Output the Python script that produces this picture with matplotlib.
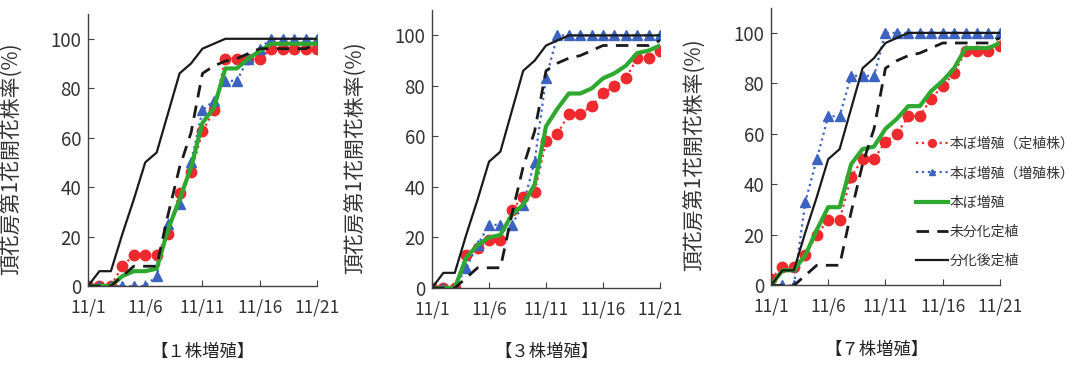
import matplotlib
matplotlib.use('Agg')
from matplotlib import pyplot as plt

plt.rcParams['font.family'] = ['Noto Sans CJK JP', 'DejaVu Sans']

days = list(range(21))
xtick_days = [0, 5, 10, 15, 20]
xtick_labels = ['11/1', '11/6', '11/11', '11/16', '11/21']
yticks = [0, 20, 40, 60, 80, 100]

panel_titles = ['【１株増殖】', '【３株増殖】', '【７株増殖】']
series_names = ['本ぼ増殖（定植株）', '本ぼ増殖（増殖株）', '本ぼ増殖', '未分化定植', '分化後定植']
ylabel = '頂花房第1花開花株率(%)'

# controls (same in every panel)
undiff = [0, 0, 0, 4, 8, 8, 8, 29, 48, 62, 86, 89, 91, 92, 94, 96, 96, 96, 96, 96, 98]
diff = [0, 6, 6, 21, 35, 50, 54, 70, 86, 90, 96, 98, 100, 100, 100, 100, 100, 100, 100, 100, 100]

# 1 plant
red1 = [0, 0, 0, 8, 12.5, 12.5, 12.5, 21, 37.5, 46, 62.5, 71, 92, 92, 92, 92, 96, 96, 96, 96, 96]
blue1 = [0, 0, 0, 0, 0, 0, 4, 25, 33, 50, 71, 75, 83, 83, 92, 96, 100, 100, 100, 100, 100]
green1 = [0, 0, 0, 4, 6, 6, 7, 23, 35, 48, 66, 72, 88, 88, 92, 95, 98, 98, 98, 98, 98]

# 3 plants
red2 = [0, 0, 0, 13, 16, 19, 19, 31, 36, 38, 58, 61, 69, 69, 72, 77, 80, 83, 91, 91, 94]
blue2 = [0, 0, 0, 8, 17, 25, 25, 25, 33, 50, 83, 100, 100, 100, 100, 100, 100, 100, 100, 100, 100]
green2 = [0, 0, 0, 12, 17, 20, 21, 29, 33, 41, 64, 71, 77, 77, 79, 83, 85, 88, 93, 94, 96]

# 7 plants
red3 = [2.5, 7.5, 7.5, 12, 20, 26, 26, 43, 50, 50, 57, 60, 67, 67, 74, 79, 84, 93, 93, 93, 95]
blue3 = [0, 0, 0, 33, 50, 67, 67, 83, 83, 83, 100, 100, 100, 100, 100, 100, 100, 100, 100, 100, 100]
green3 = [0, 6, 6, 12, 22, 31, 31, 48, 54, 55, 62, 66, 71, 71, 77, 81, 86, 94, 94, 94, 96]

panels = [(red1, blue1, green1), (red2, blue2, green2), (red3, blue3, green3)]

# axes boxes in figure fractions [left, bottom, width, height]
boxes = [[0.0814, 0.227, 0.2118, 0.735],
         [0.3996, 0.2216, 0.2110, 0.751],
         [0.7132, 0.2284, 0.2118, 0.751]]
title_x = [203, 547, 877]
title_y = [352, 352, 350]

red = '#ee2a2e'
blue = '#3d63c0'
green = '#2fa830'

fig = plt.figure(figsize=(10.81, 3.70), dpi=100)

for i, (r, b, g) in enumerate(panels):
    ax = fig.add_axes(boxes[i])
    ax.plot(days, r, ':', color=red, lw=1.6, marker='o', ms=7.5, mec=red, label=series_names[0])
    ax.plot(days, b, ':', color=blue, lw=1.6, marker='^', ms=6.5, mec=blue, label=series_names[1])
    ax.plot(days, g, '-', color=green, lw=3.0, label=series_names[2])
    ax.plot(days, undiff, '--', color='#1a1a1a', lw=2.0, dashes=(4.5, 3), label=series_names[3])
    ax.plot(days, diff, '-', color='#1a1a1a', lw=1.6, label=series_names[4])

    ax.set_xlim(0, 20)
    ax.set_ylim(0, 110)
    ax.set_xticks(xtick_days)
    ax.set_xticklabels(xtick_labels)
    ax.set_yticks(yticks)
    ax.spines['top'].set_visible(False)
    ax.spines['right'].set_visible(False)
    for s in ['left', 'bottom']:
        ax.spines[s].set_color('#404040')
        ax.spines[s].set_linewidth(1.0)
    ax.tick_params(axis='x', direction='in', length=4, labelsize=12.5, pad=9, colors='#404040', labelcolor='#333333')
    ax.tick_params(axis='y', direction='in', length=4, labelsize=13.5, pad=5, colors='#404040', labelcolor='#333333')
    ax.set_ylabel(ylabel, fontsize=15, color='#333333')
    ax.yaxis.set_label_coords(-0.285, 0.47)

    fig.text(title_x[i] / 1081, 1 - title_y[i] / 370, panel_titles[i],
             ha='center', va='center', fontsize=12.5, color='#222222')

    if i == 2:
        ax.legend(loc='upper left', bbox_to_anchor=(916 / 1081, 1 - 137 / 370),
                  bbox_transform=fig.transFigure, frameon=False, fontsize=10,
                  handlelength=2.3, handletextpad=0.1, labelspacing=1.1,
                  borderpad=0, borderaxespad=0, markerscale=0.75,
                  labelcolor='#333333')

fig.savefig('out.png', dpi=100)
